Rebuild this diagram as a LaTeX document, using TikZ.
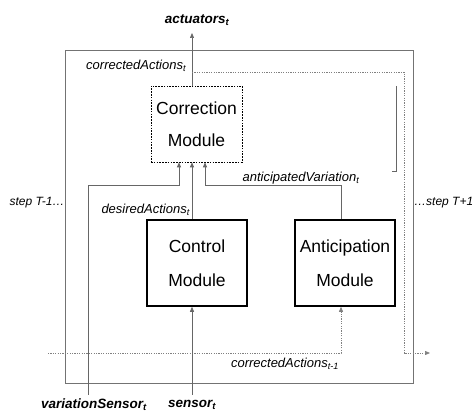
\documentclass[tikz,border=0pt]{standalone}
\usepackage{fontspec}
\setmainfont{Liberation Sans}
\usetikzlibrary{arrows.meta}
\begin{document}
\begin{tikzpicture}[x=1pt,y=-1pt,
  module/.style={draw=black,line width=1.6pt,minimum width=100pt,minimum height=86pt,align=center,inner sep=0pt,font=\fontsize{17.5}{34}\selectfont},
  corrbox/.style={draw=black,line width=0.6pt,dash pattern=on 1.6pt off 1.2pt,minimum width=91pt,minimum height=76pt,align=center,inner sep=0pt,font=\fontsize{17.5}{32}\selectfont},
  conn/.style={draw=black!60,line width=0.7pt},
  arr/.style={-{Triangle[length=5pt,width=4pt]}},
  dotline/.style={draw=black!50,line width=0.7pt,dash pattern=on 1.2pt off 1.2pt},
  lbl/.style={font=\fontsize{13}{15}\selectfont\itshape,inner sep=0pt},
  slbl/.style={font=\fontsize{12}{14}\selectfont\itshape,inner sep=0pt},
  blbl/.style={font=\fontsize{13.5}{15}\selectfont\bfseries\itshape,inner sep=0pt}]
\useasboundingbox (0,0) rectangle (472,414);
\draw[draw=black!55,line width=0.7pt] (65,50) rectangle (413,383);
\node[corrbox] (corr) at (196.5,124) {Correction\\Module};
\node[module] (ctrl) at (197,263) {Control\\Module};
\node[module] (antic) at (345,263) {Anticipation\\Module};
% labels
\node[blbl] (actlbl) at (197,20) {actuators\textsubscript{t}};
\node[lbl,anchor=west] (calbl) at (86,66) {correctedActions\textsubscript{t}};
\node[lbl,anchor=east] (dalbl) at (190,210) {desiredActions\textsubscript{t}};
\node[lbl] (avlbl) at (301,178) {anticipatedVariation\textsubscript{t}};
\node[slbl] (stepm) at (37,203) {step T-1…};
\node[slbl,anchor=west] (stepp) at (414,203) {…step T+1};
\node[lbl] (ca1lbl) at (285,364) {correctedActions\textsubscript{t-1}};
\node[blbl] (vslbl) at (94,405) {variationSensor\textsubscript{t}};
\node[blbl] (snlbl) at (192,405) {sensor\textsubscript{t}};
% coordinates
\coordinate (acttop) at (192,33);
\coordinate (loopa) at (192,72);
\coordinate (loopb) at (404,72);
\coordinate (loopc) at (404,353);
\coordinate (loopd) at (430,353);
\coordinate (prevs) at (48,353);
\coordinate (prevb) at (341,353);
\coordinate (vsbot) at (88,395);
\coordinate (vsbend) at (88,185);
\coordinate (vsin) at (179,185);
\coordinate (avbend) at (341,185);
\coordinate (avin) at (205,185);
\coordinate (snbot) at (192,395);
\coordinate (ticka) at (396,86);
\coordinate (tickb) at (396,171);
\coordinate (tickc) at (392,171);
% connectors
\draw[conn,arr] (corr.north -| acttop) -- (acttop);
\draw[dotline,arr] (loopa) -- (loopb) -- (loopc) -- (loopd);
\draw[dotline,arr] (prevs) -- (prevb) -- (antic.south -| prevb);
\draw[conn,arr] (vsbot) -- (vsbend) -- (vsin) -- (corr.south -| vsin);
\draw[conn,arr] (ctrl.north -| acttop) -- (corr.south -| acttop);
\draw[conn,arr] (antic.north -| avbend) -- (avbend) -- (avin) -- (corr.south -| avin);
\draw[conn,arr] (snbot) -- (ctrl.south -| snbot);
\draw[conn] (ticka) -- (tickb) -- (tickc);
\end{tikzpicture}
\end{document}
